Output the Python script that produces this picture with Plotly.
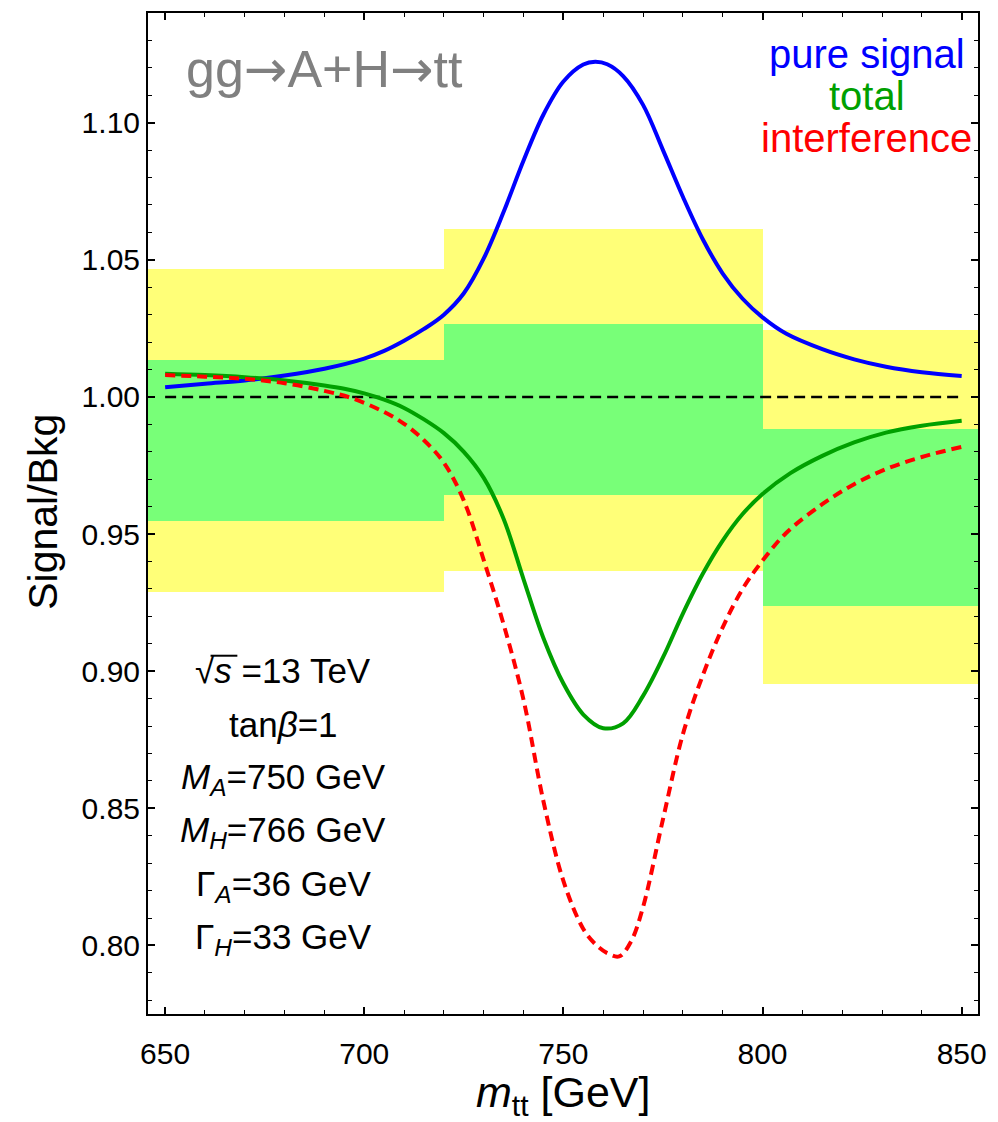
import plotly.graph_objects as go

# ---- data -------------------------------------------------------------
# pure signal (A+H resonance only), ratio to background
m_signal = [650, 660, 670, 680, 690, 700, 705, 710, 715, 720, 725, 730, 735, 740, 745,
            750, 755, 758, 761, 765, 770, 775, 780, 785, 790, 795, 800, 806, 815, 823,
            831, 840, 850]
pure_signal = [1.0035, 1.0048, 1.0060, 1.0078, 1.0103, 1.0140, 1.0168, 1.0205, 1.0248,
               1.0300, 1.0378, 1.0505, 1.0675, 1.0862, 1.1030, 1.1150, 1.1212, 1.1222,
               1.1213, 1.1170, 1.1065, 1.0900, 1.0730, 1.0575, 1.0450, 1.0358, 1.0290,
               1.0230, 1.0174, 1.0137, 1.0110, 1.0090, 1.0076]

# total (signal + interference), ratio to background
m_total = [650, 660, 670, 680, 690, 695, 700, 705, 710, 715, 720, 725, 730, 735, 740,
           745, 750, 755, 760, 765, 770, 775, 780, 785, 790, 795, 800, 807, 815, 823,
           831, 840, 850]
total = [1.0085, 1.0080, 1.0072, 1.0060, 1.0042, 1.0030, 1.0013, 0.9990, 0.9960,
         0.9918, 0.9868, 0.9800, 0.9705, 0.9555, 0.9335, 0.9120, 0.8955, 0.8842,
         0.8792, 0.8810, 0.8910, 0.9050, 0.9210, 0.9355, 0.9476, 0.9573, 0.9646,
         0.9722, 0.9785, 0.9834, 0.9870, 0.9895, 0.9913]

# interference term, ratio to background
m_interf = [650, 660, 670, 680, 690, 697, 705, 710, 715, 720, 725, 730, 735, 740, 745,
            750, 755, 758, 761, 764, 767, 770, 775, 780, 785, 790, 795, 800, 806, 815,
            823, 831, 840, 850]
interference = [1.0080, 1.0074, 1.0066, 1.0050, 1.0022, 0.9995, 0.9945, 0.9902, 0.9842,
                0.9760, 0.9622, 0.9405, 0.9170, 0.8895, 0.8525, 0.8235, 0.8060, 0.8005,
                0.7972, 0.7960, 0.8015, 0.8140, 0.8460, 0.8770, 0.8985, 0.9160, 0.9300,
                0.9403, 0.9505, 0.9609, 0.9682, 0.9737, 0.9781, 0.9818]

# measurement uncertainty bands per m_tt bin
bin_lo = [640, 720, 800]
bin_hi = [720, 800, 880]
band2_lo = [0.9287, 0.9365, 0.8954]
band2_hi = [1.0466, 1.0614, 1.0244]
band1_lo = [0.9546, 0.9641, 0.9239]
band1_hi = [1.0134, 1.0265, 0.9883]

ref_x = [650, 850]
ref_y = [1.0, 1.0]

# ---- figure -----------------------------------------------------------
W, H = 998, 1122
L, R, T, B = 148, 14, 11, 108
FONT = "Liberation Sans, Arial, Helvetica, sans-serif"


def px_x(p):
    return (p - L) / (W - L - R)


def px_y(p):
    return (H - B - p) / (H - T - B)


fig = go.Figure()

centers = [(a + b) / 2 for a, b in zip(bin_lo, bin_hi)]
widths = [b - a for a, b in zip(bin_lo, bin_hi)]

fig.add_trace(go.Bar(
    x=centers, base=band2_lo, y=[h - l for h, l in zip(band2_hi, band2_lo)],
    width=widths, marker=dict(color="#FFFF78", line=dict(width=0)),
    showlegend=False, hoverinfo="skip"))
fig.add_trace(go.Bar(
    x=centers, base=band1_lo, y=[h - l for h, l in zip(band1_hi, band1_lo)],
    width=widths, marker=dict(color="#78FF78", line=dict(width=0)),
    showlegend=False, hoverinfo="skip"))

fig.add_trace(go.Scatter(
    x=ref_x, y=ref_y, mode="lines",
    line=dict(color="black", width=2.6, dash="11px,6px"),
    showlegend=False, hoverinfo="skip"))

fig.add_trace(go.Scatter(
    x=m_signal, y=pure_signal, mode="lines", name="pure signal",
    line=dict(color="#0000FF", width=4, shape="spline", smoothing=1.0),
    showlegend=False))
fig.add_trace(go.Scatter(
    x=m_total, y=total, mode="lines", name="total",
    line=dict(color="#00A000", width=4, shape="spline", smoothing=1.0),
    showlegend=False))
fig.add_trace(go.Scatter(
    x=m_interf, y=interference, mode="lines", name="interference",
    line=dict(color="#FF0000", width=4, shape="spline", smoothing=1.0,
              dash="10px,6px"),
    showlegend=False))

axis_common = dict(
    showline=True, linecolor="black", linewidth=2, mirror="ticks",
    ticks="inside", ticklen=7, tickwidth=1.6, tickcolor="black",
    showgrid=False, zeroline=False,
    tickfont=dict(family=FONT, size=30, color="black"),
)

fig.update_xaxes(
    range=[645.7, 854.1], tick0=650, dtick=50,
    minor=dict(ticks="inside", ticklen=4, tickwidth=1.4, tickcolor="black",
               dtick=10, tick0=650),
    ticklabelstandoff=12,
    **axis_common)
fig.update_yaxes(
    range=[0.775, 1.140], tick0=0.8, dtick=0.05, tickformat=".2f",
    minor=dict(ticks="inside", ticklen=4, tickwidth=1.4, tickcolor="black",
               dtick=0.01, tick0=0.8),
    ticklabelstandoff=0,
    **axis_common)

ARROW = '<span style="font-family:DejaVu Sans">→</span>'

ann = []
# process label
ann.append(dict(text=f"gg{ARROW}A+H{ARROW}tt", x=px_x(326), y=px_y(67),
                xref="paper", yref="paper",
                showarrow=False, xanchor="center", yanchor="middle",
                font=dict(family=FONT, size=52, color="#808080")))
# curve key
for txt, col, yc in [("pure signal", "#0000FF", 52),
                     ("total", "#00A000", 94),
                     ("interference", "#FF0000", 136)]:
    ann.append(dict(text=txt, x=px_x(872), y=px_y(yc), xref="paper", yref="paper",
                    showarrow=False, xanchor="center", yanchor="middle",
                    font=dict(family=FONT, size=40, color=col), borderpad=0))
# parameter block
params = ["√<i>s</i> =13 TeV",
          "tan<i>β</i>=1",
          "<i>M</i><sub><i>A</i></sub>=750 GeV",
          "<i>M</i><sub><i>H</i></sub>=766 GeV",
          "Γ<sub><i>A</i></sub>=36 GeV",
          "Γ<sub><i>H</i></sub>=33 GeV"]
centers_y = [670, 724, 779, 832, 886, 939]
for txt, yc in zip(params, centers_y):
    ann.append(dict(text=txt, x=px_x(284), y=px_y(yc), xref="paper", yref="paper",
                    showarrow=False, xanchor="center", yanchor="middle",
                    font=dict(family=FONT, size=35, color="black")))
# axis titles
ann.append(dict(text="<i>m</i><sub>tt</sub> [GeV]", x=0.5, y=px_y(1095),
                xref="paper", yref="paper", showarrow=False,
                xanchor="center", yanchor="middle", borderpad=0,
                font=dict(family=FONT, size=43, color="black")))
ann.append(dict(text="Signal/Bkg", x=px_x(42), y=px_y(511), xref="paper", yref="paper",
                showarrow=False, textangle=-90, xanchor="center", yanchor="middle",
                font=dict(family=FONT, size=41, color="black")))

# overbar of the square root sign
fig.add_shape(type="line", xref="paper", yref="paper",
              x0=px_x(211), x1=px_x(238), y0=px_y(655), y1=px_y(655),
              line=dict(color="black", width=2))

fig.update_layout(
    width=W, height=H,
    margin=dict(l=L, r=R, t=T, b=B, pad=0),
    paper_bgcolor="white", plot_bgcolor="white",
    barmode="overlay", bargap=0,
    annotations=ann,
    showlegend=False,
)

fig.write_html("out.html")
